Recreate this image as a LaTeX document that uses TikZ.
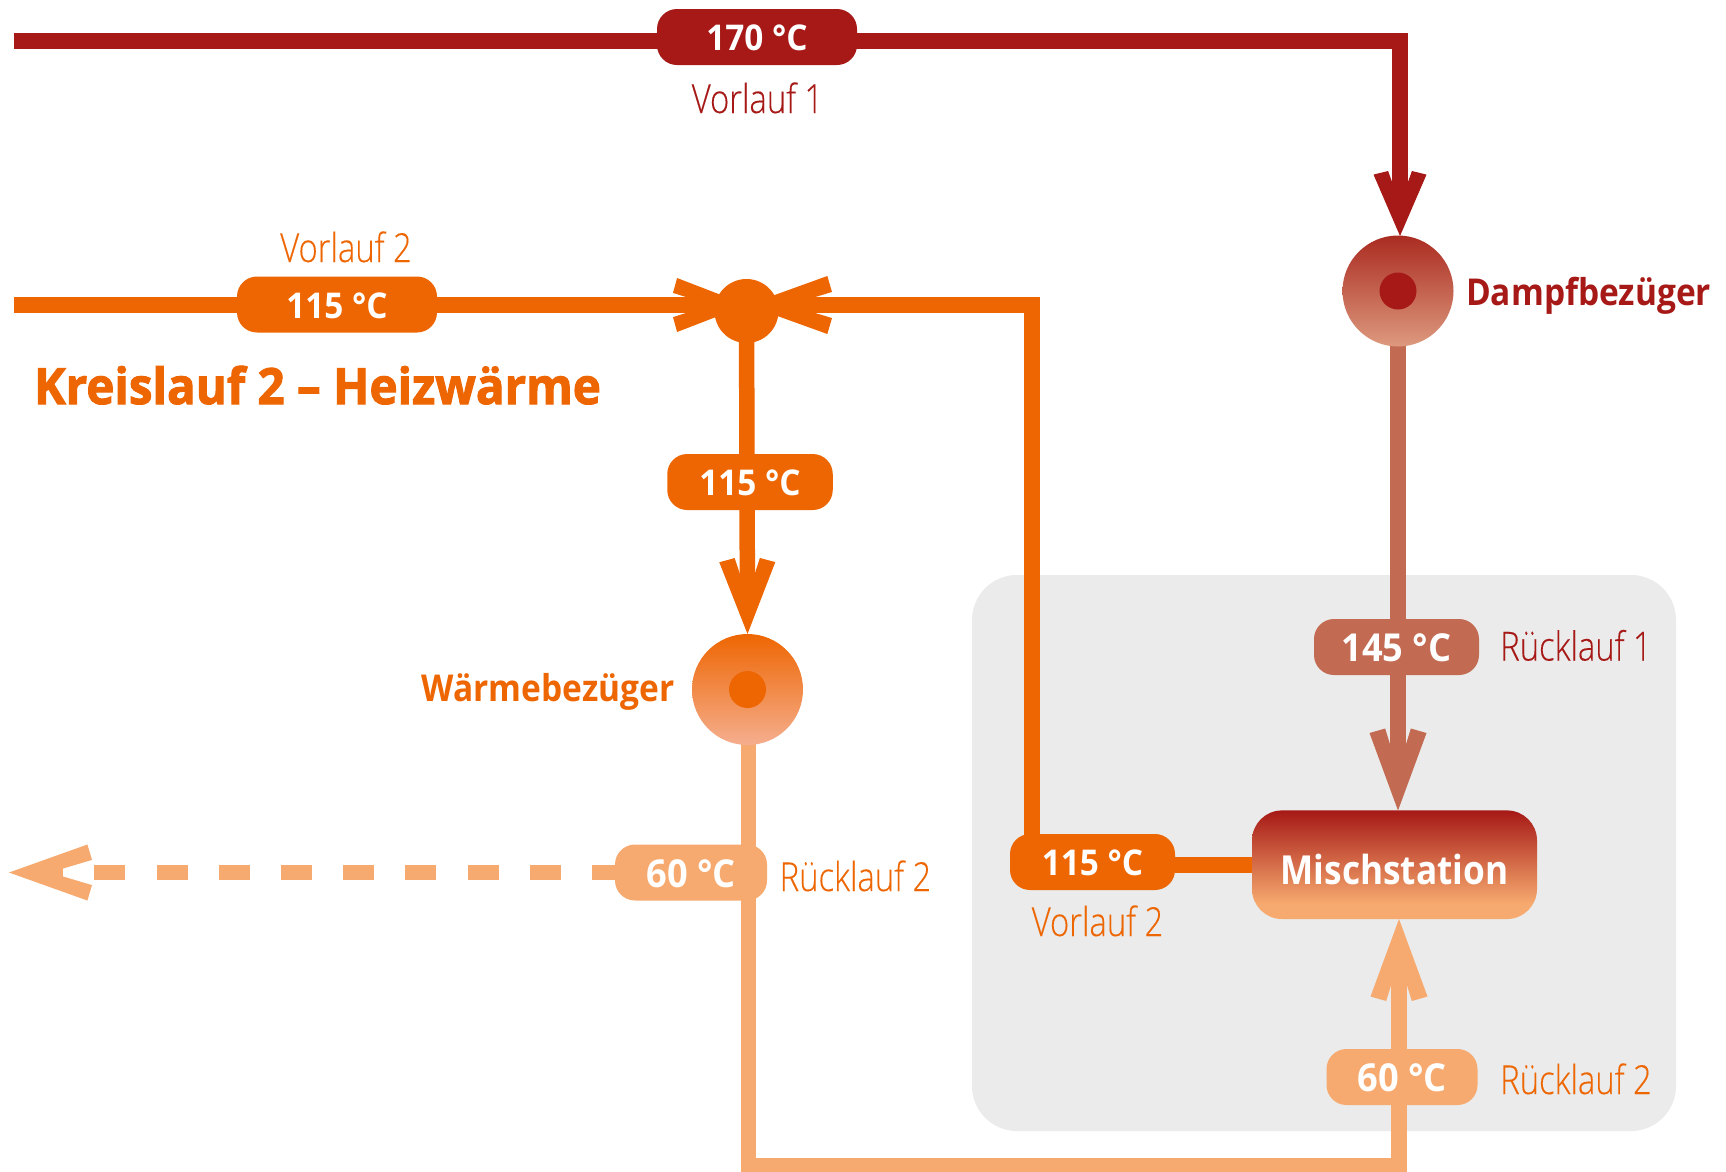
\documentclass[tikz,border=0pt]{standalone}
\usepackage{fontspec}
\usetikzlibrary{arrows.meta}
\setmainfont{Open Sans}
\newfontfamily\lightf[FakeStretch=0.82,FakeBold=0.2]{Open Sans Light}
\newfontfamily\pillf[FakeStretch=0.94]{Open Sans Bold}
\newfontfamily\boldf[FakeStretch=0.905]{Open Sans Bold}
\newfontfamily\mixf[FakeStretch=0.88]{Open Sans Bold}
\newfontfamily\headf[FakeStretch=0.95,FakeBold=2]{Open Sans Bold}
\definecolor{cred}{HTML}{A61916}
\definecolor{corange}{HTML}{EE6602}
\definecolor{clight}{HTML}{F7AA6F}
\definecolor{cmid}{HTML}{C26A52}
\definecolor{cgray}{HTML}{EAEBEA}
\definecolor{dtop}{HTML}{AA2B21}
\definecolor{dbot}{HTML}{DD9A7E}
\definecolor{wtop}{HTML}{EE6602}
\definecolor{wbot}{HTML}{F5AE8E}
\pgfdeclareverticalshading{mixshade}{100bp}{color(0bp)=(clight); color(32bp)=(clight); color(75bp)=(cred); color(100bp)=(cred)}
\pgfdeclarearrow{
  name=Barb,
  parameters={\the\pgfarrowlength,\the\pgfarrowwidth},
  setup code={
    \pgfarrowssettipend{0pt}
    \pgfarrowssetlineend{-0.6\pgfarrowlength}
    \pgfarrowssetvisualbackend{-\pgfarrowlength}
    \pgfarrowssetbackend{-\pgfarrowlength}
    \pgfarrowshullpoint{0pt}{0pt}
    \pgfarrowshullpoint{-\pgfarrowlength}{0.5\pgfarrowwidth}
    \pgfarrowshullpoint{-\pgfarrowlength}{-0.5\pgfarrowwidth}
    \pgfarrowssavethe\pgfarrowlength
    \pgfarrowssavethe\pgfarrowwidth
  },
  drawing code={
    \pgfpathmoveto{\pgfqpoint{0pt}{0pt}}
    \pgfpathlineto{\pgfpoint{-0.945\pgfarrowlength}{0.5\pgfarrowwidth}}
    \pgfpathlineto{\pgfpoint{-\pgfarrowlength}{0.225\pgfarrowwidth}}
    \pgfpathlineto{\pgfpoint{-0.65\pgfarrowlength}{0.07\pgfarrowwidth}}
    \pgfpathlineto{\pgfpoint{-0.65\pgfarrowlength}{-0.07\pgfarrowwidth}}
    \pgfpathlineto{\pgfpoint{-\pgfarrowlength}{-0.225\pgfarrowwidth}}
    \pgfpathlineto{\pgfpoint{-0.945\pgfarrowlength}{-0.5\pgfarrowwidth}}
    \pgfpathclose
    \pgfusepathqfill
  },
  defaults={length=80pt,width=56pt}
}
\tikzset{
  pipe/.style={line width=15.5pt},
  pill/.style={rectangle,rounded corners=20pt,inner sep=0pt,minimum height=56pt,text=white,
    font=\pillf\fontsize{35.5}{38}\selectfont,text height=27.5pt,text depth=0pt},
  bigpill/.style={pill,font=\pillf\fontsize{38.5}{41}\selectfont,text height=29.5pt},
  flowlabel/.style={inner sep=0pt,font=\lightf\fontsize{40}{44}\selectfont},
  namelabel/.style={inner sep=0pt,font=\boldf\fontsize{37}{40}\selectfont},
  consumer/.style={circle,minimum size=111pt,inner sep=0pt,draw=none},
  hub/.style={circle,minimum size=37pt,inner sep=0pt,draw=none},
}
\begin{document}
\begin{tikzpicture}[x=1pt,y=-1pt]
\clip (0,0) rectangle (1726,1171);
\fill[white] (0,0) rectangle (1726,1171);
\fill[cgray,rounded corners=45pt] (972,575) rectangle (1676,1131);

% free ends and corners
\coordinate (redstart) at (14,41);
\coordinate (redcorner) at (1400,41);
\coordinate (orstart) at (14,305);
\coordinate (jin) at (747,305);
\coordinate (orcorner) at (1032,305);
\coordinate (retA) at (748.5,1166);
\coordinate (retB) at (1399,1166);
\coordinate (dashstart) at (623,872.5);
\coordinate (dashtip) at (9,872.5);
\path (1398,291) coordinate (dampfC) (747.5,689.5) coordinate (waermeC)
      (1394.5,810.5) coordinate (mischN) (1394.5,919) coordinate (mischS)
      (1252,865) coordinate (mischW) (746.5,311) coordinate (junctionC);

% pipes
\draw[pipe,draw=cred,-{Barb[length=65pt,width=53pt,color=cred,fill=cred]}] (redstart) -- (redcorner) -- (redcorner |- 0,236);
\draw[pipe,draw=corange,-{Barb[length=74pt,width=54pt,color=corange,fill=corange]}] (orstart) -- (jin);
\draw[pipe,draw=corange,-{Barb[length=85pt,width=58pt,color=corange,fill=corange]}] (1032,860) -- (orcorner) -- (jin);
\draw[pipe,draw=corange,-{Barb[length=76pt,width=56pt,color=corange,fill=corange]}] (junctionC) -- (waermeC |- 0,634);
\draw[pipe,draw=corange] (1175,865) -- (mischW);
\draw[pipe,draw=cmid,-{Barb[length=82pt,width=57pt,color=cmid,fill=cmid]}] (dampfC) -- (mischN -| dampfC);
\draw[pipe,draw=clight,-{Barb[length=82pt,width=57pt,color=clight,fill=clight]}] (waermeC -| retA) -- (retA) -- (retB) -- (mischS -| retB);
\draw[pipe,draw=clight,dash pattern=on 31pt off 31.2pt,-{Barb[length=83pt,width=56pt,color=clight,fill=clight]}] (dashstart) -- (dashtip);

% symbols
\node[hub,fill=corange,minimum size=64pt] (junction) at (junctionC) {};
\node[consumer,top color=dtop,bottom color=dbot] (dampf) at (dampfC) {};
\node[hub,fill=cred] (dampfhub) at (dampfC) {};
\node[consumer,top color=wtop,bottom color=wbot] (waerme) at (waermeC) {};
\node[hub,fill=corange] (waermehub) at (waermeC) {};
\node[rectangle,rounded corners=30pt,shading=mixshade,minimum width=285pt,minimum height=108.6pt,
      inner sep=0pt,text=white,font=\mixf\fontsize{40}{44}\selectfont,text height=38.6pt,text depth=0pt] (misch) at (1394.5,864.7) {Mischstation};

% temperature pills
\node[pill,fill=cred,minimum width=200pt] (p170) at (757,37) {170 °C};
\node[pill,fill=corange,minimum width=200pt] (p115a) at (337,304.5) {115 °C};
\node[pill,fill=corange,minimum width=165.5pt] (p115b) at (750,482) {115 °C};
\node[pill,fill=corange,minimum width=165pt] (p115c) at (1092.5,862) {115 °C};
\node[bigpill,fill=cmid,minimum width=165pt] (p145) at (1396.5,647) {145 °C};
\node[bigpill,fill=clight,minimum width=152pt] (p60a) at (691,872.5) {60 °C};
\node[bigpill,fill=clight,minimum width=151pt] (p60b) at (1402,1077) {60 °C};

% labels
\node[flowlabel,text=cred,anchor=base] (v1) at (757.5,113) {Vorlauf 1};
\node[flowlabel,text=corange,anchor=base] (v2a) at (346,262) {Vorlauf 2};
\node[flowlabel,text=corange,anchor=base] (v2b) at (1097.5,936) {Vorlauf 2};
\node[flowlabel,text=corange,anchor=base west] (r2a) at (779.5,891) {Rücklauf 2};
\node[flowlabel,text=cred,anchor=base west] (r1) at (1500,660.5) {Rücklauf 1};
\node[flowlabel,text=corange,anchor=base west] (r2b) at (1500,1094) {Rücklauf 2};
\node[namelabel,text=cred,anchor=base west] (ndampf) at (1466,305.4) {Dampfbezüger};
\node[namelabel,text=corange,anchor=base east] (nwaerme) at (674.5,701) {Wärmebezüger};
\node[inner sep=0pt,text=corange,anchor=base west,font=\headf\fontsize{50}{54}\selectfont] (title) at (34,404) {Kreislauf 2 – Heizwärme};
\end{tikzpicture}
\end{document}
